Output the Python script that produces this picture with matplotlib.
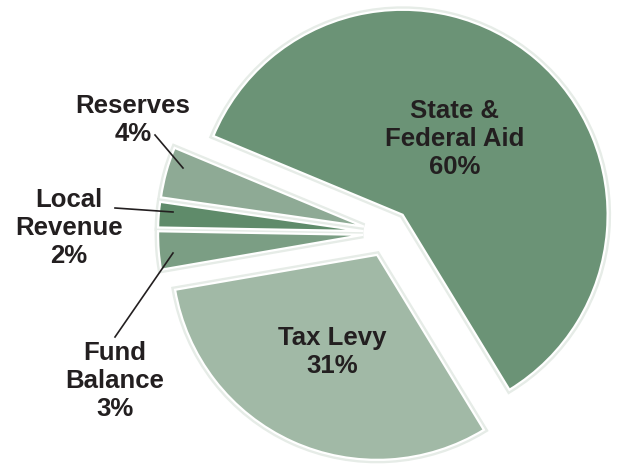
import matplotlib
matplotlib.use('Agg')
import matplotlib.pyplot as plt

# budget revenue shares
labels = ['State &\nFederal Aid\n60%', 'Tax Levy\n31%', 'Fund\nBalance\n3%',
          'Local\nRevenue\n2%', 'Reserves\n4%']
shares = [60, 31, 3, 2, 4]
colors = ['#6b9376', '#a1b9a6', '#7b9e84', '#5f8b6a', '#8eaa95']

W, H = 622, 466
CX, CY = 387, 466 - 233
R = 205
EXPL = 24

fig = plt.figure(figsize=(W / 100, H / 100), dpi=100)
ax = fig.add_axes([0, 0, 1, 1])
ax.set_xlim(0, W)
ax.set_ylim(0, H)
ax.set_aspect('equal')
ax.axis('off')

# soft glow under the slices
ax.pie(shares, colors=colors, startangle=157.4, counterclock=False,
       center=(CX, CY), radius=R, explode=[EXPL] * 5,
       wedgeprops=dict(edgecolor='#e6ece7', linewidth=5, joinstyle='miter'))
ax.pie(shares, colors=colors, startangle=157.4, counterclock=False,
       center=(CX, CY), radius=R, explode=[EXPL] * 5,
       wedgeprops=dict(edgecolor='white', linewidth=1.6, joinstyle='miter'))
ax.set_xlim(0, W)
ax.set_ylim(0, H)

font = dict(fontsize=18.5, fontweight='bold', color='#231f20',
            ha='center', va='center', family='Liberation Sans', linespacing=1.2)

# label positions in pixel coords (top-left origin)
pos = [(455, 139), (332, 352), (115, 381), (69, 228), (133, 120)]
for lab, (x, y) in zip(labels, pos):
    ax.text(x, H - y, lab, **font)

# leader lines for the small slices
leaders = [((155, 135), (183, 168)), ((115, 208), (173, 212)), ((115, 337), (173, 253))]
for (x0, y0), (x1, y1) in leaders:
    ax.plot([x0, x1], [H - y0, H - y1], color='#231f20', lw=1.2)

fig.savefig('out.png', dpi=100)
